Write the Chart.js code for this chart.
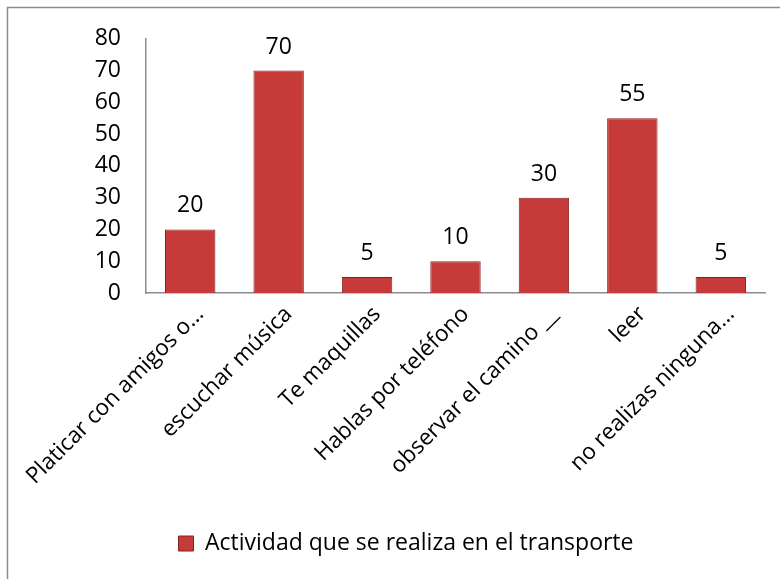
<!DOCTYPE html>
<html lang="es">
<head>
<meta charset="utf-8">
<title>Actividad que se realiza en el transporte</title>
<script src="https://cdn.jsdelivr.net/npm/chart.js@4/dist/chart.umd.min.js"></script>
<style>
  html, body { margin: 0; padding: 0; background: #fff; }
  #wrap { width: 780px; height: 579px; position: relative; }
</style>
</head>
<body>
<div id="wrap"><canvas id="actividadChart" width="780" height="579"></canvas></div>
<script>
// Datos del gráfico
const categorias = [
    'Platicar con amigos o…',
    'escuchar música',
    'Te maquillas',
    'Hablas por teléfono',
    'observar el camino __',
    'leer',
    'no realizas ninguna…'
];
const valores = [20, 70, 5, 10, 30, 55, 5];
const etiquetaSerie = 'Actividad que se realiza en el transporte';
const ejeY = { min: 0, max: 80, paso: 10 };

const fuente = '"Open Sans", sans-serif';

// Degradado horizontal para cada barra (bordes oscuros, centro claro)
function colorBarra(ctx) {
    const chart = ctx.chart;
    const el = ctx.element;
    if (!chart.chartArea || !el || el.width === undefined || isNaN(el.x)) return '#c73a3a';
    const x0 = el.x - el.width / 2;
    const x1 = el.x + el.width / 2;
    const g = chart.ctx.createLinearGradient(x0, 0, x1, 0);
    g.addColorStop(0, '#9b2223');
    g.addColorStop(0.15, '#c93637');
    g.addColorStop(0.5, '#d8403f');
    g.addColorStop(0.85, '#c33435');
    g.addColorStop(1, '#922021');
    return g;
}

// Marco exterior
const marcoPlugin = {
    id: 'marco',
    beforeDraw(chart) {
        const c = chart.ctx;
        c.save();
        c.strokeStyle = '#8c8c8c';
        c.lineWidth = 1.5;
        c.strokeRect(7.5, 7.5, chart.width + 20, chart.height + 20);
        c.restore();
    }
};

// Etiquetas de valor encima de cada barra
const etiquetasPlugin = {
    id: 'etiquetasValor',
    afterDatasetsDraw(chart) {
        const c = chart.ctx;
        const meta = chart.getDatasetMeta(0);
        c.save();
        c.fillStyle = '#000';
        c.font = '23px ' + fuente;
        c.textAlign = 'center';
        c.textBaseline = 'alphabetic';
        meta.data.forEach((bar, i) => {
            c.fillText(String(chart.data.datasets[0].data[i]), bar.x, bar.y - 17);
        });
        c.restore();
    }
};

const ctx = document.getElementById('actividadChart').getContext('2d');
new Chart(ctx, {
    type: 'bar',
    data: {
        labels: categorias,
        datasets: [{
            label: etiquetaSerie,
            data: valores,
            backgroundColor: colorBarra,
            borderColor: '#8a1e1f',
            borderWidth: 1,
            barPercentage: 0.57,
            categoryPercentage: 1
        }]
    },
    options: {
        responsive: false,
        animation: false,
        layout: { padding: { top: 37, right: 15, left: 47, bottom: 14 } },
        plugins: {
            legend: {
                position: 'bottom',
                labels: {
                    color: '#000',
                    font: { family: fuente, size: 23 },
                    boxWidth: 15,
                    boxHeight: 15,
                    padding: 10,
                    generateLabels(chart) {
                        return [{
                            text: etiquetaSerie,
                            fillStyle: '#c73a3a',
                            strokeStyle: '#8a1e1f',
                            lineWidth: 1,
                            datasetIndex: 0
                        }];
                    }
                }
            },
            tooltip: { enabled: false }
        },
        scales: {
            x: {
                grid: { display: false, drawTicks: false },
                border: { display: true, color: '#8c8c8c', width: 1.5 },
                ticks: {
                    color: '#000',
                    font: { family: fuente, size: 22.5 },
                    minRotation: 45,
                    maxRotation: 45,
                    autoSkip: false,
                    padding: 8,
                    labelOffset: 10
                },
                afterFit(scale) { scale.height = 229; }
            },
            y: {
                min: ejeY.min,
                max: ejeY.max,
                grid: { display: false, drawTicks: false },
                border: { display: true, color: '#8c8c8c', width: 1.5 },
                ticks: {
                    stepSize: ejeY.paso,
                    color: '#000',
                    font: { family: fuente, size: 23 },
                    padding: 25
                },
                afterFit(scale) { scale.width = 99; }
            }
        }
    },
    plugins: [marcoPlugin, etiquetasPlugin]
});
</script>
</body>
</html>
